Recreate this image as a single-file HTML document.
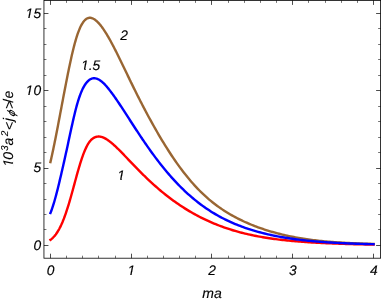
<!DOCTYPE html>
<html><head><meta charset="utf-8"><title>plot</title>
<style>html,body{margin:0;padding:0;background:#fff;}body{width:382px;height:300px;overflow:hidden;position:relative;font-family:"Liberation Sans",sans-serif;}</style>
</head><body>
<svg width="382" height="300" viewBox="0 0 382 300" style="position:absolute;left:0;top:0;will-change:transform">
<rect width="382" height="300" fill="#fff"/>
<path d="M50.45,239.82 L50.94,239.45 L51.42,239.07 L51.91,238.66 L52.40,238.23 L52.89,237.77 L53.37,237.28 L53.86,236.76 L54.35,236.22 L54.83,235.64 L55.32,235.04 L55.81,234.40 L56.29,233.73 L56.78,233.02 L57.27,232.28 L57.76,231.51 L58.24,230.70 L58.73,229.85 L59.22,228.97 L59.70,228.05 L60.19,227.10 L60.68,226.11 L61.17,225.08 L61.65,224.01 L62.14,222.90 L62.63,221.76 L63.11,220.57 L63.60,219.35 L64.09,218.09 L64.57,216.79 L65.06,215.45 L65.55,214.08 L66.04,212.67 L66.52,211.22 L67.01,209.74 L67.50,208.22 L67.98,206.67 L68.47,205.09 L68.96,203.48 L69.45,201.84 L69.93,200.17 L70.42,198.48 L70.91,196.77 L71.39,195.03 L71.88,193.28 L72.37,191.51 L72.85,189.73 L73.34,187.95 L73.83,186.15 L74.32,184.35 L74.80,182.55 L75.29,180.76 L75.78,178.97 L76.26,177.19 L76.75,175.43 L77.24,173.68 L77.73,171.95 L78.21,170.25 L78.70,168.57 L79.19,166.91 L79.67,165.29 L80.16,163.70 L80.65,162.15 L81.13,160.63 L81.62,159.15 L82.11,157.71 L82.60,156.31 L83.08,154.96 L83.57,153.66 L84.06,152.40 L84.54,151.19 L85.03,150.04 L85.52,148.93 L86.01,147.88 L86.49,146.88 L86.98,145.93 L87.47,145.03 L87.95,144.19 L88.44,143.40 L88.93,142.67 L89.41,141.98 L89.90,141.34 L90.39,140.75 L90.88,140.20 L91.36,139.70 L91.85,139.25 L92.34,138.84 L92.82,138.46 L93.31,138.13 L93.80,137.83 L94.28,137.57 L94.77,137.34 L95.26,137.15 L95.75,136.98 L96.23,136.84 L96.72,136.73 L97.21,136.64 L97.69,136.58 L98.18,136.54 L98.67,136.53 L99.16,136.54 L99.64,136.58 L100.13,136.64 L100.62,136.72 L101.10,136.82 L101.59,136.94 L102.08,137.09 L102.56,137.25 L103.05,137.44 L103.54,137.64 L104.03,137.86 L104.51,138.09 L105.00,138.34 L105.49,138.61 L105.97,138.89 L106.46,139.19 L106.95,139.50 L107.44,139.82 L107.92,140.16 L108.41,140.50 L108.90,140.86 L109.38,141.22 L109.87,141.60 L110.36,141.99 L110.84,142.38 L111.33,142.78 L111.82,143.18 L112.31,143.60 L112.79,144.02 L113.28,144.45 L113.77,144.88 L114.25,145.32 L114.74,145.76 L115.23,146.21 L115.72,146.66 L116.20,147.12 L116.69,147.59 L117.18,148.05 L117.66,148.53 L118.15,149.00 L118.64,149.48 L119.12,149.97 L119.61,150.45 L120.10,150.94 L120.59,151.44 L121.07,151.93 L121.56,152.43 L122.05,152.93 L122.53,153.43 L123.02,153.94 L123.51,154.44 L124.00,154.95 L124.48,155.46 L124.97,155.97 L125.46,156.48 L125.94,157.00 L126.43,157.51 L126.92,158.02 L127.40,158.54 L127.89,159.05 L128.38,159.56 L128.87,160.08 L129.35,160.59 L129.84,161.11 L130.33,161.62 L130.81,162.13 L131.30,162.64 L131.79,163.15 L132.28,163.66 L132.76,164.17 L133.25,164.68 L133.74,165.18 L134.22,165.69 L134.71,166.19 L135.20,166.69 L135.68,167.19 L136.17,167.69 L136.66,168.19 L137.15,168.69 L137.63,169.18 L138.12,169.68 L138.61,170.17 L139.09,170.66 L139.58,171.15 L140.07,171.64 L140.56,172.13 L141.04,172.62 L141.53,173.10 L142.02,173.58 L142.50,174.06 L142.99,174.54 L143.48,175.02 L143.96,175.50 L144.45,175.97 L144.94,176.44 L145.43,176.91 L145.91,177.38 L146.40,177.85 L146.89,178.32 L147.37,178.78 L149.00,180.32 L150.63,181.83 L152.26,183.33 L153.88,184.80 L155.51,186.25 L157.14,187.68 L158.76,189.08 L160.39,190.47 L162.02,191.82 L163.64,193.16 L165.27,194.47 L166.90,195.75 L168.53,197.02 L170.15,198.26 L171.78,199.47 L173.41,200.66 L175.03,201.83 L176.66,202.98 L178.29,204.10 L179.91,205.20 L181.54,206.28 L183.17,207.34 L184.80,208.37 L186.42,209.39 L188.05,210.38 L189.68,211.35 L191.30,212.30 L192.93,213.23 L194.56,214.14 L196.18,215.03 L197.81,215.90 L199.44,216.74 L201.07,217.57 L202.69,218.38 L204.32,219.18 L205.95,219.95 L207.57,220.70 L209.20,221.44 L210.83,222.16 L212.45,222.86 L214.08,223.55 L215.71,224.21 L217.34,224.86 L218.96,225.50 L220.59,226.11 L222.22,226.71 L223.84,227.30 L225.47,227.87 L227.10,228.42 L228.73,228.96 L230.35,229.48 L231.98,229.99 L233.61,230.49 L235.23,230.97 L236.86,231.43 L238.49,231.88 L240.11,232.32 L241.74,232.75 L243.37,233.16 L245.00,233.56 L246.62,233.95 L248.25,234.33 L249.88,234.69 L251.50,235.04 L253.13,235.39 L254.76,235.72 L256.38,236.04 L258.01,236.35 L259.64,236.65 L261.27,236.94 L262.89,237.22 L264.52,237.49 L266.15,237.76 L267.77,238.01 L269.40,238.26 L271.03,238.50 L272.65,238.73 L274.28,238.95 L275.91,239.16 L277.54,239.37 L279.16,239.57 L280.79,239.76 L282.42,239.95 L284.04,240.13 L285.67,240.31 L287.30,240.48 L288.92,240.64 L290.55,240.80 L292.18,240.95 L293.81,241.10 L295.43,241.24 L297.06,241.38 L298.69,241.51 L300.31,241.64 L301.94,241.76 L303.57,241.88 L305.20,242.00 L306.82,242.11 L308.45,242.22 L310.08,242.33 L311.70,242.43 L313.33,242.53 L314.96,242.62 L316.58,242.72 L318.21,242.80 L319.84,242.89 L321.47,242.97 L323.09,243.06 L324.72,243.13 L326.35,243.21 L327.97,243.28 L329.60,243.35 L331.23,243.42 L332.85,243.49 L334.48,243.55 L336.11,243.61 L337.74,243.67 L339.36,243.73 L340.99,243.79 L342.62,243.84 L344.24,243.90 L345.87,243.95 L347.50,244.00 L349.12,244.04 L350.75,244.09 L352.38,244.13 L354.01,244.18 L355.63,244.22 L357.26,244.26 L358.89,244.30 L360.51,244.34 L362.14,244.37 L363.77,244.41 L365.39,244.44 L367.02,244.48 L368.65,244.51 L370.28,244.54 L371.90,244.57 L373.53,244.60" fill="none" stroke="#ff0000" stroke-width="2.4" stroke-linejoin="round" stroke-linecap="square"/>
<path d="M50.45,161.99 L50.94,159.86 L51.42,157.69 L51.91,155.48 L52.40,153.24 L52.89,150.97 L53.37,148.66 L53.86,146.33 L54.35,143.96 L54.83,141.56 L55.32,139.14 L55.81,136.69 L56.29,134.21 L56.78,131.72 L57.27,129.21 L57.76,126.68 L58.24,124.13 L58.73,121.58 L59.22,119.02 L59.70,116.45 L60.19,113.87 L60.68,111.29 L61.17,108.71 L61.65,106.12 L62.14,103.54 L62.63,100.96 L63.11,98.39 L63.60,95.82 L64.09,93.26 L64.57,90.71 L65.06,88.17 L65.55,85.65 L66.04,83.14 L66.52,80.65 L67.01,78.18 L67.50,75.73 L67.98,73.31 L68.47,70.91 L68.96,68.55 L69.45,66.21 L69.93,63.91 L70.42,61.65 L70.91,59.42 L71.39,57.24 L71.88,55.10 L72.37,53.00 L72.85,50.96 L73.34,48.97 L73.83,47.03 L74.32,45.15 L74.80,43.32 L75.29,41.56 L75.78,39.86 L76.26,38.22 L76.75,36.66 L77.24,35.16 L77.73,33.72 L78.21,32.36 L78.70,31.06 L79.19,29.83 L79.67,28.67 L80.16,27.57 L80.65,26.54 L81.13,25.57 L81.62,24.66 L82.11,23.82 L82.60,23.04 L83.08,22.31 L83.57,21.65 L84.06,21.04 L84.54,20.49 L85.03,20.00 L85.52,19.56 L86.01,19.17 L86.49,18.83 L86.98,18.54 L87.47,18.30 L87.95,18.10 L88.44,17.96 L88.93,17.85 L89.41,17.79 L89.90,17.77 L90.39,17.79 L90.88,17.86 L91.36,17.95 L91.85,18.09 L92.34,18.26 L92.82,18.47 L93.31,18.71 L93.80,18.97 L94.28,19.27 L94.77,19.60 L95.26,19.95 L95.75,20.33 L96.23,20.74 L96.72,21.17 L97.21,21.62 L97.69,22.09 L98.18,22.58 L98.67,23.10 L99.16,23.64 L99.64,24.20 L100.13,24.78 L100.62,25.38 L101.10,25.99 L101.59,26.63 L102.08,27.28 L102.56,27.96 L103.05,28.64 L103.54,29.35 L104.03,30.07 L104.51,30.81 L105.00,31.56 L105.49,32.32 L105.97,33.10 L106.46,33.90 L106.95,34.70 L107.44,35.52 L107.92,36.35 L108.41,37.19 L108.90,38.04 L109.38,38.91 L109.87,39.78 L110.36,40.66 L110.84,41.55 L111.33,42.45 L111.82,43.36 L112.31,44.27 L112.79,45.20 L113.28,46.13 L113.77,47.06 L114.25,48.00 L114.74,48.95 L115.23,49.91 L115.72,50.87 L116.20,51.83 L116.69,52.80 L117.18,53.78 L117.66,54.76 L118.15,55.74 L118.64,56.73 L119.12,57.72 L119.61,58.72 L120.10,59.71 L120.59,60.71 L121.07,61.71 L121.56,62.72 L122.05,63.73 L122.53,64.73 L123.02,65.74 L123.51,66.75 L124.00,67.77 L124.48,68.78 L124.97,69.79 L125.46,70.80 L125.94,71.82 L126.43,72.83 L126.92,73.84 L127.40,74.86 L127.89,75.87 L128.38,76.88 L128.87,77.89 L129.35,78.89 L129.84,79.90 L130.33,80.90 L130.81,81.90 L131.30,82.90 L131.79,83.90 L132.28,84.90 L132.76,85.89 L133.25,86.88 L133.74,87.87 L134.22,88.85 L134.71,89.84 L135.20,90.82 L135.68,91.79 L136.17,92.77 L136.66,93.74 L137.15,94.71 L137.63,95.68 L138.12,96.64 L138.61,97.61 L139.09,98.57 L139.58,99.52 L140.07,100.48 L140.56,101.43 L141.04,102.38 L141.53,103.32 L142.02,104.26 L142.50,105.20 L142.99,106.14 L143.48,107.07 L143.96,108.00 L144.45,108.93 L144.94,109.86 L145.43,110.78 L145.91,111.70 L146.40,112.61 L146.89,113.53 L147.37,114.44 L149.00,117.45 L150.63,120.44 L152.26,123.38 L153.88,126.29 L155.51,129.17 L157.14,132.00 L158.76,134.80 L160.39,137.56 L162.02,140.28 L163.64,142.96 L165.27,145.60 L166.90,148.20 L168.53,150.76 L170.15,153.27 L171.78,155.74 L173.41,158.16 L175.03,160.54 L176.66,162.87 L178.29,165.16 L179.91,167.39 L181.54,169.58 L183.17,171.72 L184.80,173.81 L186.42,175.85 L188.05,177.85 L189.68,179.79 L191.30,181.69 L192.93,183.54 L194.56,185.35 L196.18,187.10 L197.81,188.82 L199.44,190.48 L201.07,192.10 L202.69,193.67 L204.32,195.21 L205.95,196.69 L207.57,198.14 L209.20,199.54 L210.83,200.90 L212.45,202.22 L214.08,203.51 L215.71,204.75 L217.34,205.96 L218.96,207.13 L220.59,208.27 L222.22,209.37 L223.84,210.45 L225.47,211.49 L227.10,212.50 L228.73,213.49 L230.35,214.45 L231.98,215.38 L233.61,216.28 L235.23,217.17 L236.86,218.02 L238.49,218.86 L240.11,219.67 L241.74,220.45 L243.37,221.22 L245.00,221.97 L246.62,222.70 L248.25,223.40 L249.88,224.09 L251.50,224.76 L253.13,225.41 L254.76,226.05 L256.38,226.67 L258.01,227.27 L259.64,227.85 L261.27,228.42 L262.89,228.98 L264.52,229.52 L266.15,230.05 L267.77,230.56 L269.40,231.06 L271.03,231.54 L272.65,232.01 L274.28,232.47 L275.91,232.92 L277.54,233.35 L279.16,233.77 L280.79,234.18 L282.42,234.58 L284.04,234.97 L285.67,235.34 L287.30,235.71 L288.92,236.06 L290.55,236.40 L292.18,236.73 L293.81,237.05 L295.43,237.35 L297.06,237.65 L298.69,237.94 L300.31,238.21 L301.94,238.48 L303.57,238.74 L305.20,238.99 L306.82,239.23 L308.45,239.46 L310.08,239.68 L311.70,239.89 L313.33,240.10 L314.96,240.29 L316.58,240.48 L318.21,240.66 L319.84,240.84 L321.47,241.01 L323.09,241.17 L324.72,241.32 L326.35,241.47 L327.97,241.62 L329.60,241.75 L331.23,241.88 L332.85,242.01 L334.48,242.13 L336.11,242.24 L337.74,242.36 L339.36,242.46 L340.99,242.56 L342.62,242.66 L344.24,242.75 L345.87,242.84 L347.50,242.93 L349.12,243.01 L350.75,243.09 L352.38,243.16 L354.01,243.23 L355.63,243.30 L357.26,243.37 L358.89,243.43 L360.51,243.49 L362.14,243.55 L363.77,243.60 L365.39,243.65 L367.02,243.70 L368.65,243.75 L370.28,243.79 L371.90,243.84 L373.53,243.88" fill="none" stroke="#996633" stroke-width="2.4" stroke-linejoin="round" stroke-linecap="square"/>
<path d="M50.45,213.00 L50.94,211.76 L51.42,210.46 L51.91,209.10 L52.40,207.69 L52.89,206.22 L53.37,204.69 L53.86,203.11 L54.35,201.47 L54.83,199.78 L55.32,198.04 L55.81,196.25 L56.29,194.41 L56.78,192.53 L57.27,190.62 L57.76,188.67 L58.24,186.69 L58.73,184.69 L59.22,182.67 L59.70,180.63 L60.19,178.57 L60.68,176.50 L61.17,174.42 L61.65,172.32 L62.14,170.21 L62.63,168.08 L63.11,165.94 L63.60,163.79 L64.09,161.63 L64.57,159.46 L65.06,157.27 L65.55,155.07 L66.04,152.86 L66.52,150.64 L67.01,148.40 L67.50,146.15 L67.98,143.89 L68.47,141.62 L68.96,139.35 L69.45,137.09 L69.93,134.82 L70.42,132.56 L70.91,130.32 L71.39,128.08 L71.88,125.87 L72.37,123.68 L72.85,121.51 L73.34,119.37 L73.83,117.27 L74.32,115.21 L74.80,113.20 L75.29,111.23 L75.78,109.31 L76.26,107.46 L76.75,105.66 L77.24,103.93 L77.73,102.26 L78.21,100.66 L78.70,99.12 L79.19,97.65 L79.67,96.24 L80.16,94.89 L80.65,93.61 L81.13,92.39 L81.62,91.23 L82.11,90.13 L82.60,89.09 L83.08,88.10 L83.57,87.18 L84.06,86.30 L84.54,85.48 L85.03,84.72 L85.52,84.00 L86.01,83.32 L86.49,82.70 L86.98,82.11 L87.47,81.58 L87.95,81.08 L88.44,80.63 L88.93,80.22 L89.41,79.85 L89.90,79.52 L90.39,79.23 L90.88,78.98 L91.36,78.77 L91.85,78.59 L92.34,78.45 L92.82,78.35 L93.31,78.28 L93.80,78.25 L94.28,78.24 L94.77,78.27 L95.26,78.33 L95.75,78.42 L96.23,78.54 L96.72,78.68 L97.21,78.85 L97.69,79.05 L98.18,79.27 L98.67,79.52 L99.16,79.79 L99.64,80.09 L100.13,80.41 L100.62,80.75 L101.10,81.11 L101.59,81.49 L102.08,81.90 L102.56,82.32 L103.05,82.76 L103.54,83.22 L104.03,83.69 L104.51,84.19 L105.00,84.70 L105.49,85.22 L105.97,85.76 L106.46,86.31 L106.95,86.87 L107.44,87.45 L107.92,88.03 L108.41,88.63 L108.90,89.24 L109.38,89.86 L109.87,90.48 L110.36,91.12 L110.84,91.76 L111.33,92.41 L111.82,93.06 L112.31,93.72 L112.79,94.39 L113.28,95.06 L113.77,95.74 L114.25,96.43 L114.74,97.12 L115.23,97.81 L115.72,98.51 L116.20,99.21 L116.69,99.92 L117.18,100.63 L117.66,101.35 L118.15,102.07 L118.64,102.79 L119.12,103.51 L119.61,104.24 L120.10,104.98 L120.59,105.71 L121.07,106.45 L121.56,107.19 L122.05,107.93 L122.53,108.68 L123.02,109.42 L123.51,110.17 L124.00,110.92 L124.48,111.67 L124.97,112.42 L125.46,113.18 L125.94,113.93 L126.43,114.69 L126.92,115.44 L127.40,116.20 L127.89,116.95 L128.38,117.71 L128.87,118.47 L129.35,119.22 L129.84,119.98 L130.33,120.73 L130.81,121.49 L131.30,122.24 L131.79,123.00 L132.28,123.75 L132.76,124.50 L133.25,125.25 L133.74,126.00 L134.22,126.75 L134.71,127.50 L135.20,128.24 L135.68,128.99 L136.17,129.73 L136.66,130.47 L137.15,131.21 L137.63,131.95 L138.12,132.69 L138.61,133.43 L139.09,134.16 L139.58,134.89 L140.07,135.62 L140.56,136.35 L141.04,137.08 L141.53,137.80 L142.02,138.52 L142.50,139.25 L142.99,139.96 L143.48,140.68 L143.96,141.40 L144.45,142.11 L144.94,142.82 L145.43,143.53 L145.91,144.23 L146.40,144.93 L146.89,145.63 L147.37,146.33 L149.00,148.65 L150.63,150.93 L152.26,153.19 L153.88,155.41 L155.51,157.60 L157.14,159.76 L158.76,161.89 L160.39,163.98 L162.02,166.03 L163.64,168.05 L165.27,170.04 L166.90,171.99 L168.53,173.90 L170.15,175.77 L171.78,177.61 L173.41,179.41 L175.03,181.18 L176.66,182.91 L178.29,184.60 L179.91,186.26 L181.54,187.88 L183.17,189.47 L184.80,191.02 L186.42,192.54 L188.05,194.02 L189.68,195.47 L191.30,196.89 L192.93,198.27 L194.56,199.62 L196.18,200.93 L197.81,202.22 L199.44,203.47 L201.07,204.69 L202.69,205.88 L204.32,207.04 L205.95,208.17 L207.57,209.27 L209.20,210.35 L210.83,211.39 L212.45,212.41 L214.08,213.39 L215.71,214.36 L217.34,215.29 L218.96,216.20 L220.59,217.09 L222.22,217.95 L223.84,218.79 L225.47,219.60 L227.10,220.40 L228.73,221.17 L230.35,221.92 L231.98,222.64 L233.61,223.35 L235.23,224.04 L236.86,224.71 L238.49,225.36 L240.11,225.99 L241.74,226.60 L243.37,227.20 L245.00,227.78 L246.62,228.34 L248.25,228.88 L249.88,229.41 L251.50,229.93 L253.13,230.42 L254.76,230.91 L256.38,231.38 L258.01,231.83 L259.64,232.28 L261.27,232.71 L262.89,233.12 L264.52,233.53 L266.15,233.92 L267.77,234.30 L269.40,234.67 L271.03,235.02 L272.65,235.37 L274.28,235.71 L275.91,236.03 L277.54,236.35 L279.16,236.65 L280.79,236.95 L282.42,237.24 L284.04,237.51 L285.67,237.78 L287.30,238.04 L288.92,238.29 L290.55,238.54 L292.18,238.77 L293.81,239.00 L295.43,239.22 L297.06,239.44 L298.69,239.64 L300.31,239.84 L301.94,240.03 L303.57,240.22 L305.20,240.40 L306.82,240.57 L308.45,240.74 L310.08,240.90 L311.70,241.06 L313.33,241.21 L314.96,241.35 L316.58,241.49 L318.21,241.63 L319.84,241.76 L321.47,241.88 L323.09,242.00 L324.72,242.12 L326.35,242.23 L327.97,242.34 L329.60,242.45 L331.23,242.55 L332.85,242.65 L334.48,242.74 L336.11,242.83 L337.74,242.92 L339.36,243.00 L340.99,243.08 L342.62,243.16 L344.24,243.24 L345.87,243.31 L347.50,243.38 L349.12,243.45 L350.75,243.51 L352.38,243.57 L354.01,243.63 L355.63,243.69 L357.26,243.75 L358.89,243.80 L360.51,243.85 L362.14,243.90 L363.77,243.95 L365.39,244.00 L367.02,244.04 L368.65,244.08 L370.28,244.13 L371.90,244.17 L373.53,244.20" fill="none" stroke="#0000ff" stroke-width="2.4" stroke-linejoin="round" stroke-linecap="square"/>
<g stroke="#000" stroke-width="0.8" fill="none">
<rect x="43.95" y="0.4" width="336.65" height="257.80"/>
<path d="M50.50,258.2 v-4.5 M50.50,0.4 v4.5 M131.50,258.2 v-4.5 M131.50,0.4 v4.5 M211.50,258.2 v-4.5 M211.50,0.4 v4.5 M292.50,258.2 v-4.5 M292.50,0.4 v4.5 M373.50,258.2 v-4.5 M373.50,0.4 v4.5 M43.95,245.50 h4.5 M380.6,245.50 h-4.5 M43.95,168.50 h4.5 M380.6,168.50 h-4.5 M43.95,90.50 h4.5 M380.6,90.50 h-4.5 M43.95,13.50 h4.5 M380.6,13.50 h-4.5" stroke-width="0.7"/>
<path d="M66.50,258.2 v-2.5 M66.50,0.4 v2.5 M82.50,258.2 v-2.5 M82.50,0.4 v2.5 M98.50,258.2 v-2.5 M98.50,0.4 v2.5 M115.50,258.2 v-2.5 M115.50,0.4 v2.5 M147.50,258.2 v-2.5 M147.50,0.4 v2.5 M163.50,258.2 v-2.5 M163.50,0.4 v2.5 M179.50,258.2 v-2.5 M179.50,0.4 v2.5 M195.50,258.2 v-2.5 M195.50,0.4 v2.5 M228.50,258.2 v-2.5 M228.50,0.4 v2.5 M244.50,258.2 v-2.5 M244.50,0.4 v2.5 M260.50,258.2 v-2.5 M260.50,0.4 v2.5 M276.50,258.2 v-2.5 M276.50,0.4 v2.5 M308.50,258.2 v-2.5 M308.50,0.4 v2.5 M325.50,258.2 v-2.5 M325.50,0.4 v2.5 M341.50,258.2 v-2.5 M341.50,0.4 v2.5 M357.50,258.2 v-2.5 M357.50,0.4 v2.5 M43.95,229.50 h2.5 M380.6,229.50 h-2.5 M43.95,214.50 h2.5 M380.6,214.50 h-2.5 M43.95,199.50 h2.5 M380.6,199.50 h-2.5 M43.95,183.50 h2.5 M380.6,183.50 h-2.5 M43.95,152.50 h2.5 M380.6,152.50 h-2.5 M43.95,137.50 h2.5 M380.6,137.50 h-2.5 M43.95,121.50 h2.5 M380.6,121.50 h-2.5 M43.95,106.50 h2.5 M380.6,106.50 h-2.5 M43.95,75.50 h2.5 M380.6,75.50 h-2.5 M43.95,59.50 h2.5 M380.6,59.50 h-2.5 M43.95,44.50 h2.5 M380.6,44.50 h-2.5 M43.95,28.50 h2.5 M380.6,28.50 h-2.5" stroke-width="0.55"/>
</g>
<g font-family="Liberation Sans, sans-serif" font-style="italic" fill="#000" stroke="#000" stroke-width="0.15" font-size="13.8" style="text-rendering:geometricPrecision">
<text x="50.65" y="275" text-anchor="middle">0</text>
<text x="131.42" y="275" text-anchor="middle">1</text>
<text x="212.19" y="275" text-anchor="middle">2</text>
<text x="292.96" y="275" text-anchor="middle">3</text>
<text x="373.73" y="275" text-anchor="middle">4</text>
<text x="41.1" y="250" text-anchor="end">0</text>
<text x="41.1" y="172" text-anchor="end">5</text>
<text x="41.7" y="95" text-anchor="end"><tspan dx="-0.5">1</tspan><tspan dx="0.3">0</tspan></text>
<text x="41.7" y="17.6" text-anchor="end"><tspan dx="-0.5">1</tspan><tspan dx="0.3">5</tspan></text>
<text x="212.0" y="298" font-size="14" text-anchor="middle">ma</text>
<text x="124.2" y="40.0" text-anchor="middle">2</text>
<text x="90.7" y="69.7" text-anchor="middle">1.5</text>
<text x="121.0" y="180.0" text-anchor="middle">1</text>
<g transform="translate(13.0,170) rotate(-90)"><text font-size="14" stroke-width="0.08"><tspan x="3.25" y="0" font-size="14">1</tspan><tspan x="10.16" y="0" font-size="14">0</tspan><tspan x="18.95" y="-5.3" font-size="10">3</tspan><tspan x="24.44" y="0" font-size="14">a</tspan><tspan x="33.82" y="-5.3" font-size="10">2</tspan><tspan x="39.95" y="0.8" font-size="14">&lt;</tspan><tspan x="48.82" y="0" font-size="14">j</tspan><tspan x="60.95" y="0.8" font-size="14">&gt;</tspan><tspan x="67.3" y="0" font-size="14" font-style="normal">/</tspan><tspan x="71.63" y="0" font-size="14">e</tspan></text><text transform="translate(52.9,1.9) skewX(-18)" font-size="11" stroke-width="0.15">&#981;</text></g>
</g>
<g fill="#fff"><rect x="24.8" y="16.95" width="3.2" height="1.25"/><rect x="30" y="16.95" width="3.2" height="1.25"/><rect x="28" y="17" width="2" height="1" fill-opacity="0.3"/><rect x="24.8" y="93.95" width="3.2" height="1.25"/><rect x="30" y="93.95" width="3.2" height="1.25"/><rect x="28" y="94" width="2" height="1" fill-opacity="0.3"/><rect x="126.8" y="273.95" width="3.2" height="1.25"/><rect x="132" y="273.95" width="3.2" height="1.25"/><rect x="130" y="274" width="2" height="1" fill-opacity="0.3"/><rect x="80.8" y="68.95" width="3.2" height="1.25"/><rect x="86" y="68.95" width="2.2" height="1.25"/><rect x="84" y="69" width="2" height="1" fill-opacity="0.3"/><rect x="116.8" y="178.95" width="3.2" height="1.25"/><rect x="122" y="178.95" width="2.2" height="1.25"/><rect x="120" y="179" width="2" height="1" fill-opacity="0.3"/><rect x="10.9" y="159.1" width="2.3" height="2.9"/><rect x="10.9" y="164" width="2.3" height="3.2"/><rect x="12" y="162" width="1" height="2" fill-opacity="0.3"/></g>
</svg>
</body></html>
